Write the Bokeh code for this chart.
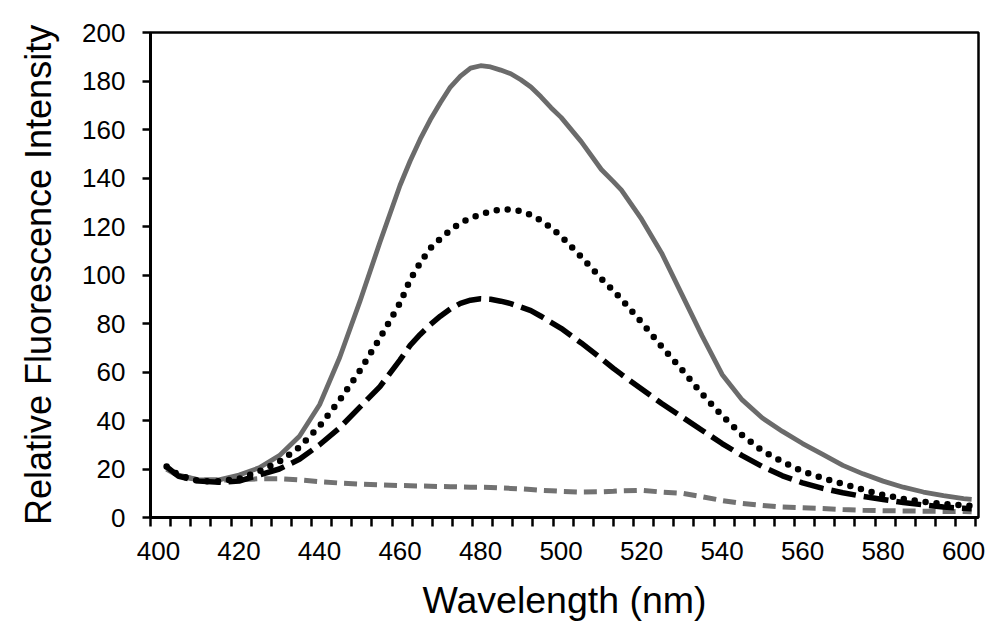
from bokeh.plotting import figure
from bokeh.models import FixedTicker, Range1d
from bokeh.embed import file_html
from bokeh.resources import INLINE

# Wavelength (nm)
wavelength = [402, 405, 410, 415, 420, 425, 430, 435, 440, 445, 450, 455, 460,
              462.5, 465, 467.5, 470, 472.5, 475, 477.5, 480, 482.5, 485, 487.5,
              490, 492.5, 495, 497.5, 500, 505, 510, 513, 515, 520, 525, 530, 535,
              540, 545, 550, 555, 560, 565, 570, 575, 580, 585, 590, 595, 600, 602]

# Solid grey curve
solid_grey = [20.5, 17.5, 15.5, 15.5, 17.5, 20.5, 25.5, 33.5, 46.5, 66, 89, 113.5, 137,
              147, 156, 164, 171, 177.5, 182, 185.3, 186.3, 185.8, 184.5, 183,
              180.5, 177.5, 173.5, 169, 165, 155, 143.5, 138.5, 135, 123, 109, 92, 75,
              59, 48.5, 41, 35.5, 30.5, 26, 21.5, 18, 15, 12.5, 10.5, 9, 7.8, 7.5]

# Dotted black curve
dotted_black = [21, 17.5, 15, 15, 16, 19, 23, 29, 37.7, 48.4, 60.5, 74, 88.5,
                98, 105, 111, 115, 118.5, 121.5, 123.5, 125, 126.3, 127, 127,
                126.3, 124.8, 122.5, 119.5, 116, 107.5, 98.5, 93.5, 90, 80.5, 70.5, 61, 51,
                42, 34, 27.5, 23, 19, 16.3, 13.8, 11.5, 9.3, 7.7, 6.5, 5.6, 5, 4.8]

# Long-dashed black curve
dashed_black = [21, 17, 15, 14.5, 15, 17.5, 20, 24, 30, 37, 45.5, 54, 65,
                71, 75.5, 79.5, 83, 86, 88.3, 89.6, 90.2, 90, 89.2, 88.2,
                86.8, 85.3, 83, 80.5, 78, 72, 65.5, 61.5, 59, 53, 47, 41.5, 36,
                30.5, 25.5, 21, 17.2, 14.3, 12, 10.2, 8.7, 7.4, 6.2, 5.2, 4.3, 3.8, 3.6]

# Short-dashed grey curve
dashed_grey = [20, 17, 15.5, 15.5, 15.5, 16, 16, 15.5, 14.8, 14.2, 13.8, 13.5, 13.2,
               13.1, 13, 12.9, 12.8, 12.7, 12.6, 12.5, 12.5, 12.4, 12.2, 12,
               11.8, 11.5, 11.2, 11, 10.8, 10.5, 10.6, 10.8, 11, 11.2, 10.5, 10, 8.6,
               7, 5.8, 5, 4.3, 4, 3.7, 3.3, 3, 2.8, 2.7, 2.6, 2.5, 2.5, 2.4]

x_ticks = [400, 420, 440, 460, 480, 500, 520, 540, 560, 580, 600]
y_ticks = [0, 20, 40, 60, 80, 100, 120, 140, 160, 180, 200]

p = figure(width=994, height=626, output_backend="svg", toolbar_location=None,
           x_range=Range1d(398, 603.7), y_range=Range1d(0, 200),
           min_border_left=150, min_border_top=32, min_border_right=16,
           min_border_bottom=109)
p.frame_width = 828
p.frame_height = 485
p.background_fill_color = "white"
p.border_fill_color = "white"
p.outline_line_color = "black"
p.outline_line_width = 2.5
p.xgrid.visible = False
p.ygrid.visible = False

p.line(wavelength, solid_grey, line_color="#6b6b6b", line_width=4.8)
p.line(wavelength, dashed_grey, line_color="#727272", line_width=5,
       line_dash="13 7")
p.line(wavelength, dashed_black, line_color="black", line_width=5.5,
       line_dash="25 8")
p.line(wavelength, dotted_black, line_color="black", line_width=6.5,
       line_dash="0 11", line_cap="round")

minor = [398 + 5 * i for i in range(42)]
xa = p.xaxis[0]
xa.ticker = FixedTicker(ticks=x_ticks, minor_ticks=minor)
xa.major_tick_line_color = None
xa.major_tick_out = 9
xa.major_tick_in = 0
xa.minor_tick_out = 9
xa.minor_tick_in = 0
xa.minor_tick_line_color = "black"
xa.minor_tick_line_width = 2.5
xa.axis_line_width = 3
xa.major_label_standoff = 15
xa.major_label_text_font = "Liberation Sans"
xa.major_label_text_font_size = "26px"
xa.major_label_text_color = "black"
xa.axis_label = "Wavelength (nm)"
xa.axis_label_text_font = "Liberation Sans"
xa.axis_label_text_font_size = "37.5px"
xa.axis_label_text_font_style = "normal"
xa.axis_label_text_color = "black"
xa.axis_label_standoff = 16

ya = p.yaxis[0]
ya.ticker = FixedTicker(ticks=y_ticks, minor_ticks=[])
ya.major_tick_out = 8
ya.major_tick_in = 0
ya.major_tick_line_width = 2.5
ya.minor_tick_line_color = None
ya.axis_line_width = 3
ya.major_label_standoff = 17
ya.major_label_text_font = "Liberation Sans"
ya.major_label_text_font_size = "26px"
ya.major_label_text_color = "black"
ya.axis_label = "Relative Fluorescence Intensity"
ya.axis_label_text_font = "Liberation Sans"
ya.axis_label_text_font_size = "36px"
ya.axis_label_text_font_style = "normal"
ya.axis_label_text_color = "black"
ya.axis_label_standoff = 20

open("out.html", "w").write(file_html(p, INLINE))
